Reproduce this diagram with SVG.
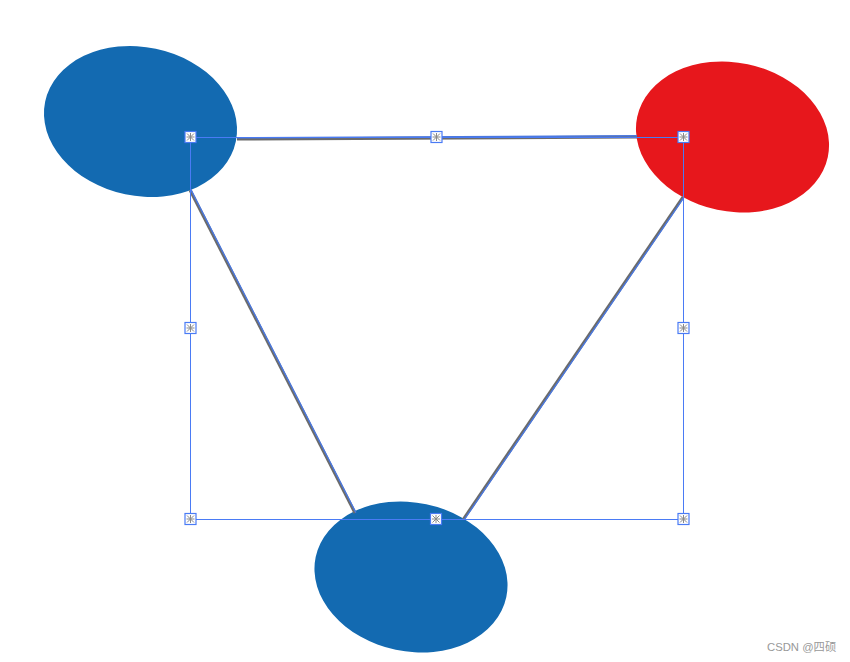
<svg xmlns="http://www.w3.org/2000/svg" width="850" height="662" viewBox="0 0 850 662">
<style>
.blue{fill:#136AB1}
.red{fill:#E7171C}
.sel{fill:none;stroke:#4A7BF5;stroke-width:1}
.arc{fill:none;stroke:#4A7BF5;stroke-width:1.5}
.cg{fill:none;stroke:#6B6B6B;stroke-width:3}
.cb{fill:none;stroke:#4A78E0;stroke-width:1.4}
.h rect{fill:#fff;stroke:#4A7BF5;stroke-width:1.2}
.h path{fill:none;stroke:#8A8A8A;stroke-width:1}
.wm{font-family:"Liberation Sans","Noto Sans CJK SC",sans-serif;font-size:11.3px;fill:#999}
</style>
<defs>
<ellipse id="e" cx="0" cy="0" rx="97.4" ry="74.4"/>
<clipPath id="c1"><rect x="189" y="138" width="52" height="56"/></clipPath>
<clipPath id="c2"><rect x="630" y="136" width="54" height="62"/></clipPath>
<clipPath id="c3"><rect x="355" y="495" width="109" height="25"/></clipPath>
<g id="hd" class="h"><rect x="-5.5" y="-5.5" width="11" height="11"/><path d="M-3.5,-3.5L3.5,3.5M3.5,-3.5L-3.5,3.5M0,-4V4M-4,0H4"/></g>
</defs>
<g id="node1">
<use href="#e" class="blue" transform="translate(140.5,121.5) rotate(11.85)"/>
<use href="#e" class="arc" clip-path="url(#c1)" transform="translate(140.5,121.5) rotate(11.85)"/>
</g>
<g id="node2">
<use href="#e" class="red" transform="translate(732.5,137) rotate(11.85)"/>
<use href="#e" class="arc" clip-path="url(#c2)" transform="translate(732.5,137) rotate(11.85)"/>
</g>
<g id="node3">
<use href="#e" class="blue" transform="translate(411,577) rotate(11.85)"/>
<use href="#e" class="arc" clip-path="url(#c3)" transform="translate(411,577) rotate(11.85)"/>
</g>
<g id="connectors">
<path class="cg" d="M237,139 L637,137"/>
<path class="cb" d="M237,137.8 L637,135.8"/>
<path class="cg" d="M190,190 L355,513"/>
<path class="cb" d="M190.9,189.6 L355.9,512.6"/>
<path class="cg" d="M683,197 L463.5,519"/>
<path class="cb" d="M683.8,197.6 L464.3,519.6"/>
</g>
<g id="selection">
<rect class="sel" x="190.5" y="137.5" width="493" height="382"/>
<use href="#hd" x="190.5" y="137"/>
<use href="#hd" x="436.5" y="137"/>
<use href="#hd" x="683.5" y="137"/>
<use href="#hd" x="190.5" y="328"/>
<use href="#hd" x="683.5" y="328"/>
<use href="#hd" x="190.5" y="519"/>
<use href="#hd" x="436" y="519"/>
<use href="#hd" x="683.5" y="519"/>
</g>
<text class="wm" x="767" y="651">CSDN @四硕</text>
</svg>
